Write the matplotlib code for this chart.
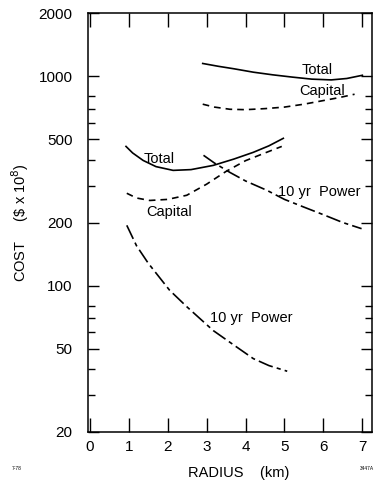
import matplotlib
matplotlib.use("Agg")
import matplotlib.pyplot as plt
from matplotlib.ticker import FixedLocator, NullFormatter, FixedFormatter

plt.rcParams['font.family'] = ['Liberation Sans', 'DejaVu Sans']

# Upper set of curves
r_tot_up = [2.9, 3.3, 3.7, 4.2, 4.7, 5.2, 5.7, 6.2, 6.6, 7.0]
total_up = [1150, 1115, 1085, 1045, 1015, 990, 968, 960, 975, 1010]
r_cap_up = [2.9, 3.2, 3.6, 4.0, 4.5, 5.0, 5.5, 6.0, 6.4, 6.8]
capital_up = [735, 712, 695, 692, 700, 712, 735, 765, 790, 820]
r_pow_up = [2.92, 3.2, 3.6, 4.0, 4.55, 5.0, 5.5, 6.0, 6.5, 6.98]
power_up = [419, 385, 347, 316, 285, 258, 237, 218, 200, 187]

# Lower set of curves
r_tot_low = [0.93, 1.1, 1.37, 1.7, 2.14, 2.6, 3.17, 3.7, 4.2, 4.6, 4.97]
total_low = [462, 430, 396, 370, 355, 358, 375, 402, 433, 465, 505]
r_cap_low = [0.95, 1.2, 1.54, 2.0, 2.49, 3.0, 3.5, 4.0, 4.5, 4.93]
capital_low = [276, 262, 255, 258, 270, 305, 351, 395, 430, 462]
r_pow_low = [0.95, 1.2, 1.5, 2.05, 2.5, 3.17, 3.7, 4.2, 4.6, 5.07]
power_low = [194, 155, 128, 95, 79, 61, 52, 44.8, 41.5, 39]

xticks = [0, 1, 2, 3, 4, 5, 6, 7]
yticks = [20, 50, 100, 200, 500, 1000, 2000]
ytick_labels = ['20', '50', '100', '200', '500', '1000', '2000']
yminor = [30, 40, 60, 70, 80, 300, 400, 600, 700, 800]

fig = plt.figure(figsize=(3.77, 4.87), dpi=100)
ax = fig.add_axes([0.233, 0.113, 0.754, 0.86])
ax.set_yscale('log')

lw = 1.2
cap_dash = (0, (4, 3))
pow_dash = (0, (9, 2.5, 2.5, 2.5))

ax.plot(r_tot_up, total_up, color='black', lw=lw, ls='-')
ax.plot(r_cap_up, capital_up, color='black', lw=lw, ls=cap_dash)
ax.plot(r_pow_up, power_up, color='black', lw=lw, ls=pow_dash)
ax.plot(r_tot_low, total_low, color='black', lw=lw, ls='-')
ax.plot(r_cap_low, capital_low, color='black', lw=lw, ls=cap_dash)
ax.plot(r_pow_low, power_low, color='black', lw=lw, ls=pow_dash)

fs = 10.5
ax.text(5.45, 1020, 'Total', fontsize=fs, ha='left', va='baseline')
ax.text(5.37, 810, 'Capital', fontsize=fs, ha='left', va='baseline')
ax.text(1.38, 383, 'Total', fontsize=fs, ha='left', va='baseline')
ax.text(1.44, 242, 'Capital', fontsize=fs, ha='left', va='top')
ax.text(4.83, 279, '10 yr  Power', fontsize=fs, ha='left', va='center')
ax.text(3.08, 70, '10 yr  Power', fontsize=fs, ha='left', va='center')

ax.set_xlim(-0.05, 7.25)
ax.set_ylim(20, 2000)
ax.xaxis.set_major_locator(FixedLocator(xticks))
ax.yaxis.set_major_locator(FixedLocator(yticks))
ax.yaxis.set_major_formatter(FixedFormatter(ytick_labels))
ax.yaxis.set_minor_locator(FixedLocator(yminor))
ax.yaxis.set_minor_formatter(NullFormatter())
ax.xaxis.set_minor_locator(FixedLocator([]))

ax.tick_params(axis='x', which='major', direction='in', length=10, width=1,
               top=True, labelsize=11, pad=6)
ax.tick_params(axis='y', which='major', direction='in', length=8, width=1,
               right=True, labelsize=11, pad=11)
ax.tick_params(axis='y', which='minor', direction='in', length=5, width=1,
               left=True, right=True)
for s in ax.spines.values():
    s.set_linewidth(1.1)

ax.set_xlabel('RADIUS    (km)', fontsize=10.5)
ax.xaxis.set_label_coords(0.53, -0.082)
ax.set_ylabel('COST     (\\$ x 10$^8$)', fontsize=10.5)
ax.yaxis.set_label_coords(-0.20, 0.5)

fig.text(0.03, 0.035, '7-78', fontsize=3.5)
fig.text(0.955, 0.035, '3447A', fontsize=3.5)

fig.savefig('out.png', dpi=100)
